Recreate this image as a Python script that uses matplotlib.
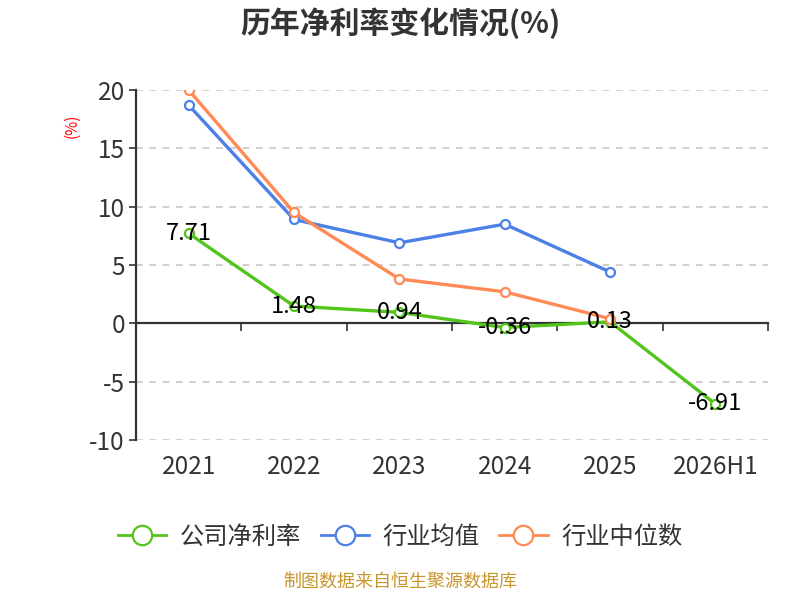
import numpy as np
import matplotlib
matplotlib.use("Agg")
import matplotlib.pyplot as plt

plt.rcParams["font.family"] = ["Noto Sans CJK SC", "DejaVu Sans"]

# ── data ─────────────────────────────────────────────────────────────────────
categories = ["2021", "2022", "2023", "2024", "2025", "2026H1"]
company = [7.71, 1.48, 0.94, -0.36, 0.13, -6.91]
industry_avg = [18.7, 8.9, 6.9, 8.5, 4.4, np.nan]
industry_median = [20.0, 9.5, 3.8, 2.7, 0.4, np.nan]
series_names = ["公司净利率", "行业均值", "行业中位数"]
colors = ["#52C41A", "#4D80E6", "#FF8A56"]
yticks = [-10, -5, 0, 5, 10, 15, 20]

# ── figure ───────────────────────────────────────────────────────────────────
fig = plt.figure(figsize=(8, 6), dpi=100)
ax = fig.add_axes([0.17, 0.2667, 0.79, 0.5833])

x = np.arange(len(categories))
all_series = [company, industry_avg, industry_median]
for vals, name, c in zip(all_series, series_names, colors):
    ax.plot(x, vals, color=c, lw=2.4, marker="o", ms=6.5, mfc="white",
            mec=c, mew=1.6, label=name, zorder=3)

for xi, v in zip(x, company):
    ax.text(xi, v, f"{v:.2f}", ha="center", va="center", fontsize=17,
            color="black", zorder=5)

ax.set_xlim(-0.5, len(categories) - 0.5)
ax.set_ylim(-10, 20)
ax.set_yticks(yticks)
ax.set_yticklabels([str(t) for t in yticks], fontsize=17.5, color="#333333")
ax.tick_params(axis="y", length=5, width=1.2, color="#333333", pad=3)

for t in yticks:
    if t != 0:
        ax.axhline(t, color="#C8C8C8", lw=1.2, ls=(0, (4, 4)), zorder=1)

# category labels along the bottom, no tick marks
ax.set_xticks(x)
ax.set_xticklabels(categories, fontsize=17.5, color="#333333")
ax.tick_params(axis="x", length=0, pad=10)

for s in ["top", "right", "bottom"]:
    ax.spines[s].set_visible(False)
ax.spines["left"].set_color("#333333")
ax.spines["left"].set_linewidth(1.6)

# zero line with boundary ticks
zero_frac = (0 - (-10)) / 30
sec = ax.secondary_xaxis(zero_frac)
sec.set_xticks(np.arange(-0.5, len(categories), 1.0))
sec.set_xticklabels([])
sec.tick_params(axis="x", direction="out", length=6, width=1.2, color="#333333")
sec.spines["bottom"].set_color("#333333")
sec.spines["bottom"].set_linewidth(1.6)

fig.text(0.09, 0.79, "(%)", rotation=90, color="red", fontsize=11,
         ha="center", va="center")

fig.text(0.5, 0.962, "历年净利率变化情况(%)", ha="center", va="center",
         fontsize=21.5, fontweight="bold", color="#333333")

leg = fig.legend(loc="center", bbox_to_anchor=(0.5, 0.105), ncol=3,
                 frameon=False, fontsize=17.5, handlelength=2.0,
                 columnspacing=0.8, handletextpad=0.55)
for txt in leg.get_texts():
    txt.set_color("#333333")
for h in leg.legend_handles:
    h.set_markersize(14)
    h.set_linewidth(2)

fig.text(0.5, 0.015, "制图数据来自恒生聚源数据库", ha="center",
         va="bottom", fontsize=13, color="#C8962E")

plt.savefig("out.png", dpi=100)
plt.close()
